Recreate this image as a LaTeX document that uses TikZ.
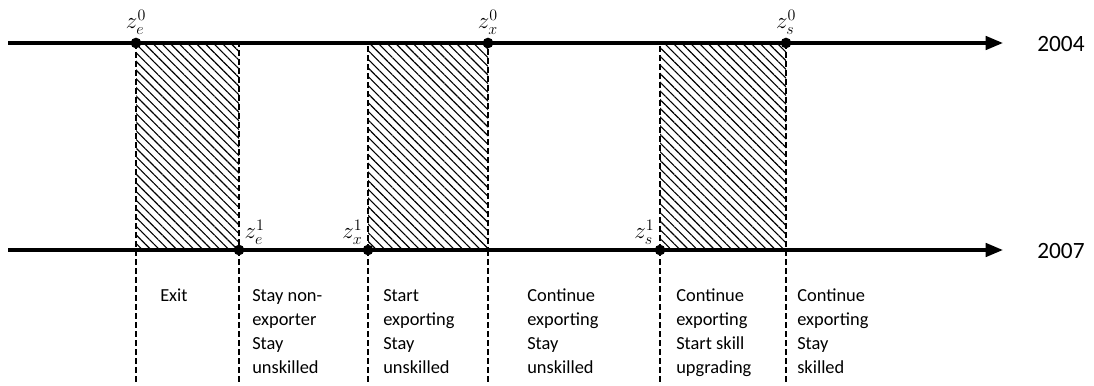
\documentclass[tikz,border=0pt]{standalone}
\usepackage{fontspec}
\setmainfont{Carlito}
\usetikzlibrary{patterns.meta,arrows.meta}
\begin{document}
\begin{tikzpicture}[x=0.75pt,y=-0.75pt,
  timeline/.style={line width=2.6pt,-{Triangle[length=13pt,width=10pt]}},
  dot/.style={circle,fill=black,inner sep=0pt,minimum size=8pt},
  lbl/.style={font=\fontsize{17}{19}\selectfont,inner sep=1pt},
  hatchbox/.style={draw,line width=1pt,dash pattern=on 4.5pt off 2.25pt,
    pattern={Lines[angle=-45,distance=4.6pt,line width=0.85pt]}},
  sep/.style={line width=1pt,dash pattern=on 4.5pt off 2.25pt},
  coltext/.style={anchor=north west,align=left,inner sep=0pt,
    font=\fontsize{13.8}{18}\selectfont},
  year/.style={anchor=west,inner sep=0pt,font=\fontsize{17.5}{20}\selectfont}]
\useasboundingbox (0,0) rectangle (1094,385);
% timeline ends
\coordinate (t0) at (8,43);
\coordinate (t1) at (1003,43);
\coordinate (b0) at (8,250);
\coordinate (b1) at (1003,250);
% threshold points
\coordinate (ze0) at (136,43);
\coordinate (zx0) at (488,43);
\coordinate (zs0) at (786,43);
\coordinate (ze1) at (239,250);
\coordinate (zx1) at (368,250);
\coordinate (zs1) at (660,250);
\coordinate (ebl) at (136,250);
\coordinate (xbr) at (488,250);
\coordinate (sbr) at (786,250);
% bottom ends of separators
\coordinate (d1) at (136,385);
\coordinate (d2) at (239,385);
\coordinate (d3) at (368,385);
\coordinate (d4) at (488,385);
\coordinate (d5) at (660,385);
\coordinate (d6) at (786,385);
% hatched regions
\path[hatchbox] (ze0) rectangle (ze1);
\path[hatchbox] (zx1) rectangle (zx0);
\path[hatchbox] (zs1) rectangle (zs0);
% separators
\draw[sep] (ebl) -- (d1);
\draw[sep] (ze1) -- (d2);
\draw[sep] (zx1) -- (d3);
\draw[sep] (xbr) -- (d4);
\draw[sep] (zs1) -- (d5);
\draw[sep] (sbr) -- (d6);
% timelines
\draw[timeline] (t0) -- (t1);
\draw[timeline] (b0) -- (b1);
% dots
\node[dot,label={[lbl,label distance=1pt]above:$z_e^0$}] (Ze0) at (ze0) {};
\node[dot,label={[lbl,label distance=1pt]above:$z_x^0$}] (Zx0) at (zx0) {};
\node[dot,label={[lbl,label distance=1pt]above:$z_s^0$}] (Zs0) at (zs0) {};
\node[dot,label={[lbl,label distance=0pt]above right:$z_e^1$}] (Ze1) at (ze1) {};
\node[dot,label={[lbl,label distance=0pt]above left:$z_x^1$}] (Zx1) at (zx1) {};
\node[dot,label={[lbl,label distance=0pt]above left:$z_s^1$}] (Zs1) at (zs1) {};
% years
\node[year] (y04) at (1037,44) {2004};
\node[year] (y07) at (1037,251) {2007};
% column texts
\node[coltext] (c1) at (160,289) {Exit};
\node[coltext] (c2) at (252,289) {Stay non-\\exporter\\Stay\\unskilled};
\node[coltext] (c3) at (383,289) {Start\\exporting\\Stay\\unskilled};
\node[coltext] (c4) at (527,289) {Continue\\exporting\\Stay\\unskilled};
\node[coltext] (c5) at (676,289) {Continue\\exporting\\Start skill\\upgrading};
\node[coltext] (c6) at (797,289) {Continue\\exporting\\Stay\\skilled};
\end{tikzpicture}
\end{document}
